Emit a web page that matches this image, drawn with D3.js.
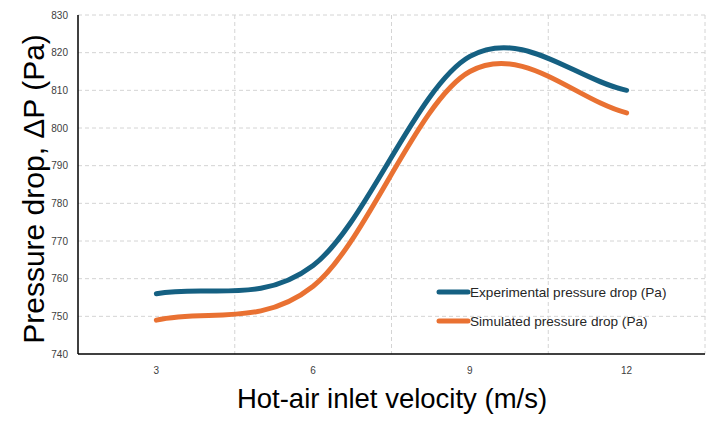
<!DOCTYPE html>
<html>
<head>
<meta charset="utf-8">
<script src="https://cdn.jsdelivr.net/npm/d3@7/dist/d3.min.js"></script>
<style>
	body { margin: 0; background: #fff; }
	text { font-family: "Liberation Sans", Arial, sans-serif; }
	.grid line { stroke: #d4d4d4; stroke-width: 1; stroke-dasharray: 4 3; }
	.tick-label { font-size: 10px; fill: #404040; }
	.legend text { font-size: 13.6px; fill: #262626; }
</style>
</head>
<body>
<svg id="chart" width="726" height="431"></svg>
<script>
const Width = 726;
const Height = 431;

// velocity categories along the x axis
const velocities = ["3", "6", "9", "12"];
// pressure drop readings, Pa
const experimental = [756, 763.5, 819, 810];
const simulated = [749, 758, 815, 804];
const yTicks = [740, 750, 760, 770, 780, 790, 800, 810, 820, 830];
const seriesNames = ["Experimental pressure drop (Pa)", "Simulated pressure drop (Pa)"];
const seriesColors = ["#156082", "#E97132"];

// plot area edges
const plotLeft = 78, plotRight = 705, plotTop = 15, plotBottom = 354;

// spreadsheet style smoothing: bezier with 1/6 tangents inside, 1/3 toward the neighbour at the ends
function smoothCurve(context) {
	let pts = [];
	return {
		areaStart() {}, areaEnd() {},
		lineStart() { pts = []; },
		point(x, y) { pts.push([x, y]); },
		lineEnd() {
			const n = pts.length;
			if (!n) return;
			context.moveTo(pts[0][0], pts[0][1]);
			for (let i = 0; i < n - 1; i++) {
				const p0 = pts[i], p1 = pts[i + 1];
				const c1 = i === 0
					? [p0[0] + (p1[0] - p0[0]) / 3, p0[1] + (p1[1] - p0[1]) / 3]
					: [p0[0] + (p1[0] - pts[i - 1][0]) / 6, p0[1] + (p1[1] - pts[i - 1][1]) / 6];
				const c2 = i === n - 2
					? [p1[0] - (p1[0] - p0[0]) / 3, p1[1] - (p1[1] - p0[1]) / 3]
					: [p1[0] - (pts[i + 2][0] - p0[0]) / 6, p1[1] - (pts[i + 2][1] - p0[1]) / 6];
				context.bezierCurveTo(c1[0], c1[1], c2[0], c2[1], p1[0], p1[1]);
			}
		}
	};
}

const chart = d3.select("#chart");

const x = d3.scaleBand().domain(velocities).range([plotLeft, plotRight]).padding(0);
const y = d3.scaleLinear().domain([740, 830]).range([plotBottom, plotTop]);

// dashed grid, horizontal at every tick and vertical between categories
const grid = chart.append("g").attr("class", "grid");
grid.selectAll("line.h").data(yTicks.filter(t => t > 740)).enter().append("line")
	.attr("x1", plotLeft).attr("x2", plotRight)
	.attr("y1", d => y(d)).attr("y2", d => y(d));
grid.selectAll("line.v").data(velocities).enter().append("line")
	.attr("x1", d => x(d) + x.bandwidth()).attr("x2", d => x(d) + x.bandwidth())
	.attr("y1", plotTop).attr("y2", plotBottom);

// axes lines
chart.append("line").attr("x1", plotLeft).attr("x2", plotLeft).attr("y1", plotTop).attr("y2", plotBottom)
	.attr("stroke", "#000").attr("stroke-width", 1.5);
chart.append("line").attr("x1", plotLeft).attr("x2", plotRight).attr("y1", plotBottom).attr("y2", plotBottom)
	.attr("stroke", "#000").attr("stroke-width", 1.5);

// tick labels
chart.selectAll("text.ytick").data(yTicks).enter().append("text")
	.attr("class", "tick-label")
	.attr("x", 68).attr("y", d => y(d) + 3.5)
	.attr("text-anchor", "end")
	.text(d => d);
chart.selectAll("text.xtick").data(velocities).enter().append("text")
	.attr("class", "tick-label")
	.attr("x", d => x(d) + x.bandwidth() / 2).attr("y", 374)
	.attr("text-anchor", "middle")
	.text(d => d);

const line = d3.line()
	.x((d, i) => x(velocities[i]) + x.bandwidth() / 2)
	.y(d => y(d))
	.curve(smoothCurve);

[experimental, simulated].forEach((s, i) => {
	chart.append("path")
		.attr("d", line(s))
		.attr("fill", "none")
		.attr("stroke", seriesColors[i])
		.attr("stroke-width", 5)
		.attr("stroke-linecap", "round");
});

// legend
const legend = chart.append("g").attr("class", "legend");
seriesNames.forEach((name, i) => {
	const ly = 292 + i * 29;
	legend.append("line").attr("x1", 439).attr("x2", 468).attr("y1", ly).attr("y2", ly)
		.attr("stroke", seriesColors[i]).attr("stroke-width", 5).attr("stroke-linecap", "round");
	legend.append("text").attr("x", 470).attr("y", ly + 5).text(name);
});

// axis titles
chart.append("text")
	.attr("x", 392).attr("y", 408)
	.attr("text-anchor", "middle")
	.attr("font-size", 27.5)
	.attr("fill", "#000")
	.text("Hot-air inlet velocity (m/s)");
chart.append("text")
	.attr("transform", "translate(44,189) rotate(-90)")
	.attr("text-anchor", "middle")
	.attr("font-size", 30)
	.attr("fill", "#000")
	.text("Pressure drop, ΔP (Pa)");
</script>
</body>
</html>
